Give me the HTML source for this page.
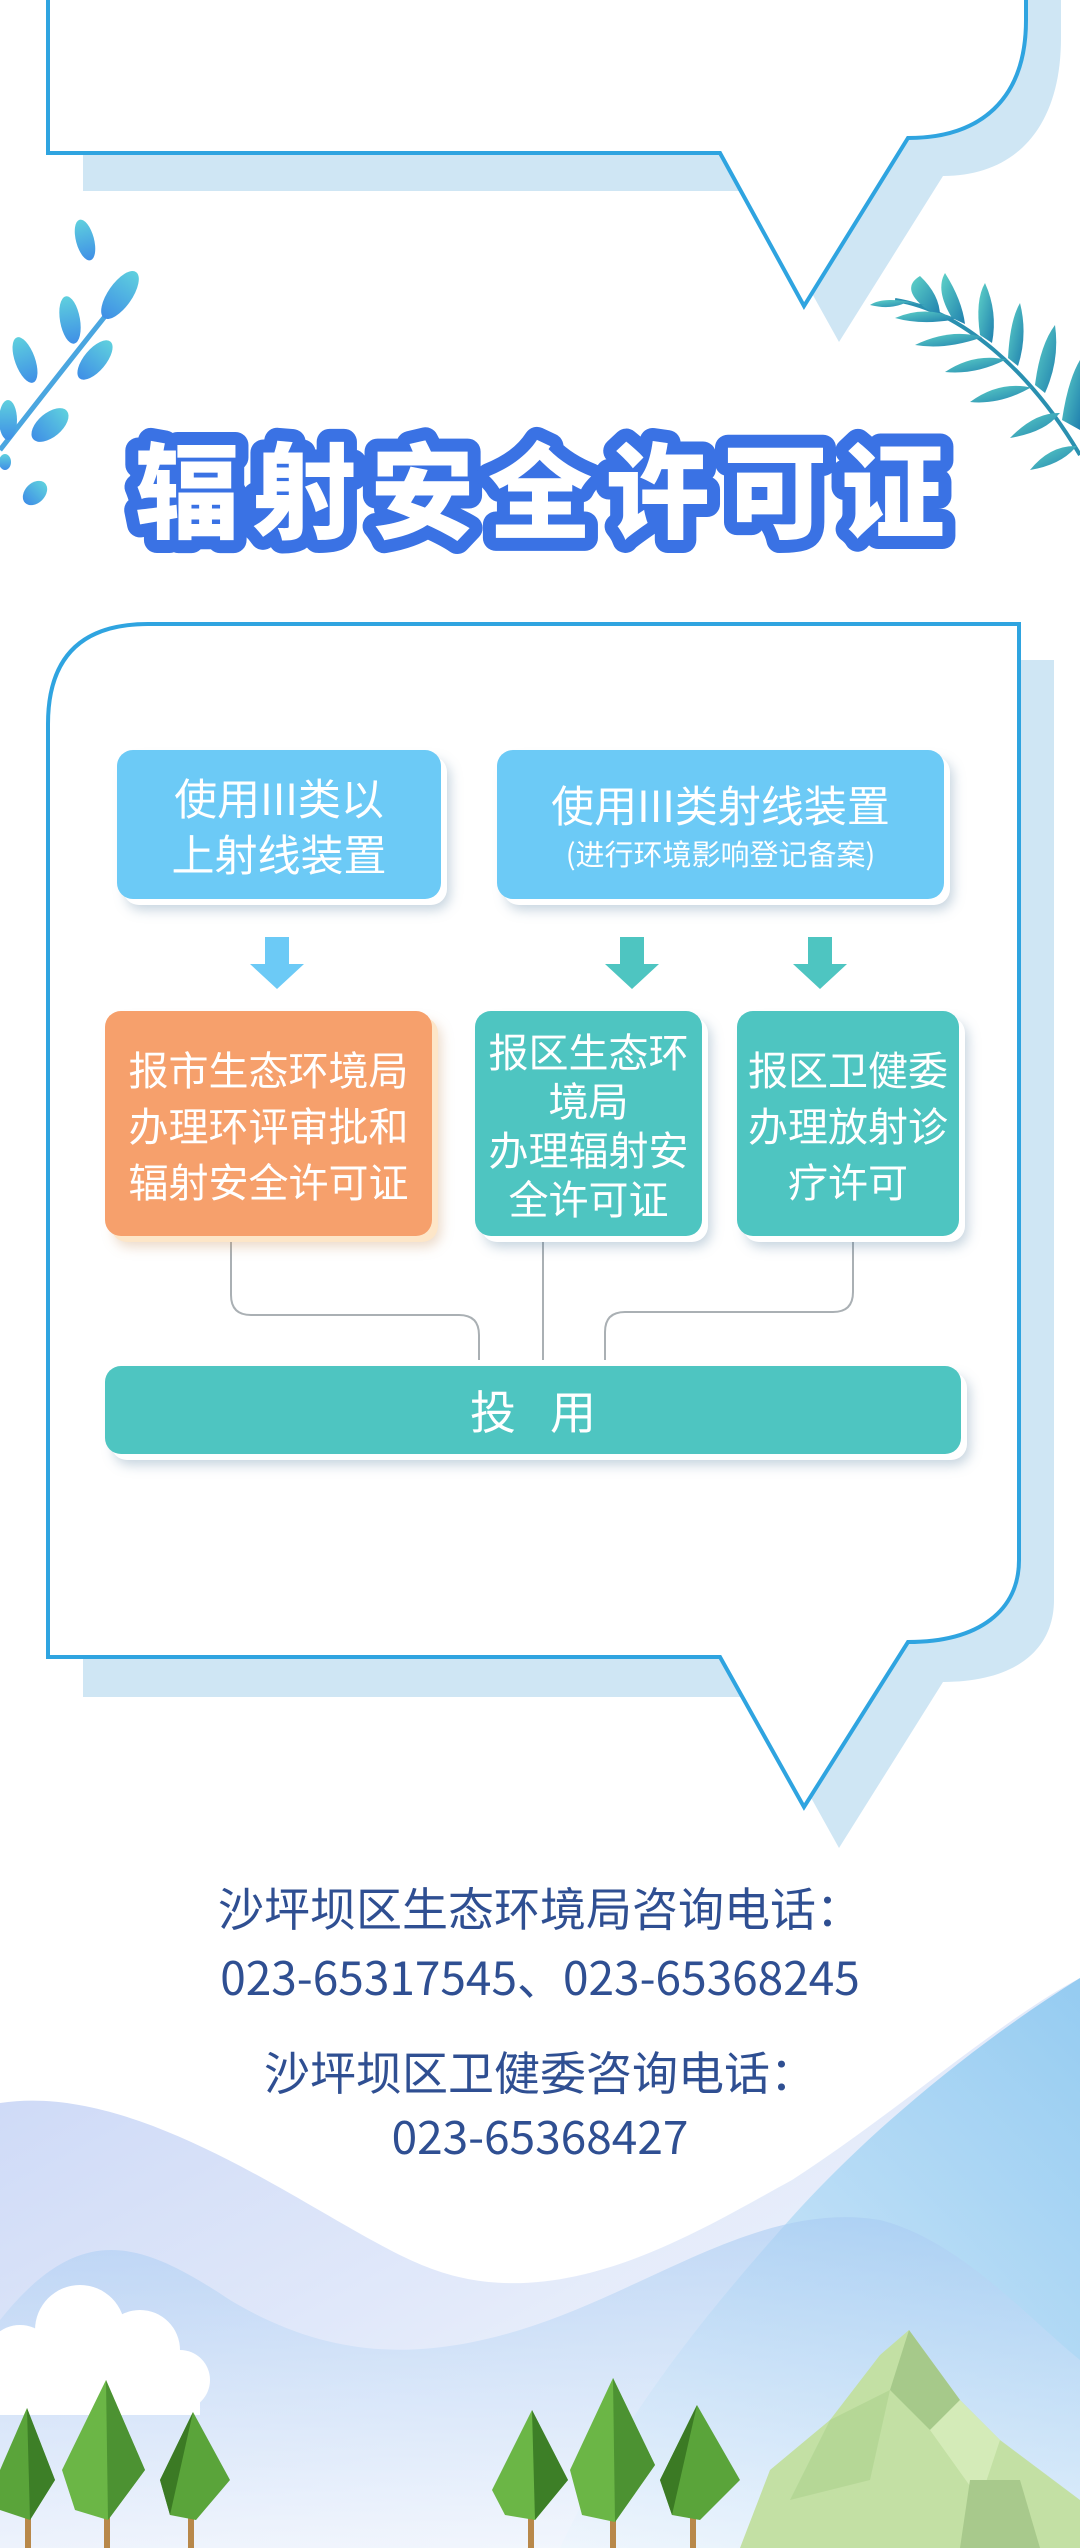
<!DOCTYPE html>
<html><head><meta charset="utf-8">
<style>
html,body{margin:0;padding:0;background:#fff;}
body{width:1080px;height:2548px;position:relative;overflow:hidden;font-family:"Noto Sans CJK SC","Liberation Sans",sans-serif;}
.box{position:absolute;color:#fff;text-align:center;border-radius:16px;box-shadow:6px 6px 0 #fff,9px 11px 12px rgba(90,130,160,.35);display:flex;flex-direction:column;justify-content:center;align-items:center;font-size:40px;line-height:52px;}
.lb{background:#6ccaf6;}
.tl{background:#4ec5c1;}
.or{background:#f6a06c;box-shadow:6px 6px 0 #fde6c8,9px 11px 12px rgba(200,150,100,.35);}
.info{position:absolute;left:0;width:1080px;text-align:center;color:#2f4f92;font-size:46px;}
</style></head><body>
<svg width="1080" height="2548" style="position:absolute;left:0;top:0" xmlns="http://www.w3.org/2000/svg">
<defs>
<linearGradient id="w1" x1="0" y1="0" x2="1" y2="1"><stop offset="0" stop-color="#c9d6f6"/><stop offset="0.6" stop-color="#e8eefb"/><stop offset="1" stop-color="#f7f9fe"/></linearGradient>
<linearGradient id="w2" x1="1" y1="0" x2="0" y2="1"><stop offset="0" stop-color="#8cc8f0"/><stop offset="1" stop-color="#e6f2fc"/></linearGradient>
<linearGradient id="w3" x1="0" y1="0" x2="0" y2="1"><stop offset="0" stop-color="#a8cbf2"/><stop offset="1" stop-color="#f4f8fe"/></linearGradient>
<linearGradient id="fern" x1="0" y1="0" x2="1" y2="1"><stop offset="0" stop-color="#5fd3c8"/><stop offset="1" stop-color="#1f7fae"/></linearGradient>
<linearGradient id="leaf" x1="0" y1="0" x2="0" y2="1"><stop offset="0" stop-color="#5fd0de"/><stop offset="1" stop-color="#3f8fe6"/></linearGradient>
</defs>
<path d="M83,-5 L83,191 L755,191 L839,342 L943,176 C1015,176 1061,128 1061,38 L1061,-5 Z" fill="#cfe6f4"/>
<path d="M48,-5 L48,153 L720,153 L804,306 L908,138 C980,138 1026,100 1026,20 L1026,-5 Z" fill="#fff" stroke="#2fa4e0" stroke-width="4"/>
<path d="M83,760 Q83,660 183,660 L1054,660 L1054,1600 C1054,1650 1015,1682 943,1682 L839,1848 L755,1697 L83,1697 Z" fill="#cfe6f4"/>
<path d="M48,724 Q48,624 148,624 L1019,624 L1019,1560 C1019,1610 980,1642 908,1642 L804,1807 L720,1657 L48,1657 Z" fill="#fff" stroke="#2fa4e0" stroke-width="4"/>
<g fill="url(#leaf)">
<path d="M0,450 Q70,360 130,285" stroke="#4aa6e0" stroke-width="5" fill="none"/>
<ellipse cx="85" cy="240" rx="9" ry="21" transform="rotate(-15 85 240)"/>
<ellipse cx="120" cy="295" rx="12" ry="28" transform="rotate(35 120 295)"/>
<ellipse cx="70" cy="320" rx="10" ry="24" transform="rotate(-10 70 320)"/>
<ellipse cx="95" cy="360" rx="11" ry="24" transform="rotate(40 95 360)"/>
<ellipse cx="25" cy="360" rx="10" ry="24" transform="rotate(-20 25 360)"/>
<ellipse cx="50" cy="425" rx="12" ry="22" transform="rotate(50 50 425)"/>
<ellipse cx="8" cy="420" rx="9" ry="20"/>
<ellipse cx="35" cy="493" rx="10" ry="14" transform="rotate(45 35 493)"/>
<ellipse cx="5" cy="462" rx="6" ry="8"/>
</g>
<g fill="url(#fern)">
<path d="M895,300 C960,310 1030,370 1080,455" stroke="#2a90b0" stroke-width="4" fill="none"/>
<path d="M925,308 Q900,288 920,276 Q940,295 940,316 Z"/>
<path d="M905,303 Q890,310 870,305 Q885,295 925,305 Z"/>
<path d="M952,318 Q935,290 945,273 Q962,300 965,324 Z"/>
<path d="M952,320 Q920,325 895,318 Q925,305 955,318 Z"/>
<path d="M980,335 Q975,300 985,283 Q998,312 992,343 Z"/>
<path d="M980,338 Q945,350 915,345 Q950,328 982,337 Z"/>
<path d="M1008,358 Q1010,320 1020,303 Q1028,335 1018,366 Z"/>
<path d="M1005,360 Q975,375 945,372 Q975,352 1008,360 Z"/>
<path d="M1035,385 Q1040,345 1055,325 Q1060,360 1045,393 Z"/>
<path d="M1030,388 Q1000,405 970,402 Q1000,380 1033,388 Z"/>
<path d="M1058,415 Q1045,432 1010,438 Q1035,412 1060,413 Z"/>
<path d="M1062,420 Q1068,380 1080,360 L1080,430 Z"/>
<path d="M1075,448 Q1060,465 1030,470 Q1050,445 1077,446 Z"/>
</g>
<text x="540" y="530" text-anchor="middle" font-family="'Noto Sans CJK SC',sans-serif" font-weight="900" font-size="104" textLength="810" lengthAdjust="spacing" fill="#fff" stroke="#3a72e4" stroke-width="26" stroke-linejoin="round" paint-order="stroke">辐射安全许可证</text>
<g fill="none" stroke="#aab0b4" stroke-width="2">
<path d="M231,1240 L231,1295 Q231,1315 251,1315 L459,1315 Q479,1315 479,1335 L479,1360"/>
<path d="M543,1240 L543,1360"/>
<path d="M853,1240 L853,1292 Q853,1312 833,1312 L625,1312 Q605,1312 605,1332 L605,1360"/>
</g>
<path d="M265,937 L289,937 L289,964 L304,964 L277,989 L250,964 L265,964 Z" fill="#6ccaf6"/>
<path d="M620,937 L644,937 L644,964 L659,964 L632,989 L605,964 L620,964 Z" fill="#4ec5c1"/>
<path d="M808,937 L832,937 L832,964 L847,964 L820,989 L793,964 L808,964 Z" fill="#4ec5c1"/>
<path d="M0,2103 C150,2080 330,2230 427,2267 C560,2320 700,2230 792,2180 C900,2110 1000,2020 1080,1978 L1080,2548 L0,2548 Z" fill="url(#w1)"/>
<path d="M792,2217 C870,2130 980,2040 1080,1978 L1080,2548 L560,2548 C620,2420 700,2320 792,2217 Z" fill="url(#w2)" opacity="0.9"/>
<path d="M0,2320 C80,2220 140,2240 230,2300 C330,2360 420,2360 520,2330 C650,2290 760,2200 880,2220 C960,2240 1030,2320 1080,2360 L1080,2548 L0,2548 Z" fill="url(#w3)" opacity="0.6"/>
<g fill="#fff">
<circle cx="80" cy="2330" r="45"/><circle cx="140" cy="2350" r="40"/><circle cx="180" cy="2380" r="30"/><circle cx="20" cy="2360" r="35"/>
<rect x="0" y="2360" width="200" height="55"/>
</g>
<g>
<path d="M740,2548 L770,2470 L830,2420 L880,2355 L909,2330 L960,2400 L1000,2440 L1040,2470 L1080,2500 L1080,2548 Z" fill="#c3e0a4"/>
<path d="M909,2330 L960,2400 L930,2430 L890,2390 Z" fill="#a6c98a"/>
<path d="M960,2400 L1000,2440 L980,2500 L930,2430 Z" fill="#d4ebb8"/>
<path d="M830,2420 L890,2390 L870,2480 L790,2500 Z" fill="#b5d796"/>
<path d="M970,2480 L1020,2480 L1040,2548 L960,2548 Z" fill="#a8c98c"/>
</g>
<g>
<rect x="25" y="2500" width="6" height="48" fill="#b8884a"/><rect x="104" y="2510" width="6" height="38" fill="#b8884a"/><rect x="188" y="2505" width="6" height="43" fill="#b8884a"/>
<path d="M27,2408 L0,2470 L0,2510 L30,2520 L55,2480 Z" fill="#5aa43a"/>
<path d="M27,2408 L55,2480 L30,2520 Z" fill="#3d7f27"/>
<path d="M106,2380 L62,2470 L75,2510 L108,2520 L145,2470 Z" fill="#6bb646"/>
<path d="M106,2380 L145,2470 L108,2520 Z" fill="#4c9232"/>
<path d="M193,2412 L160,2480 L170,2515 L196,2520 L230,2480 Z" fill="#5aa43a"/>
<path d="M193,2412 L160,2480 L170,2515 Z" fill="#3b7a24"/>
<rect x="528" y="2505" width="6" height="43" fill="#b8884a"/><rect x="610" y="2510" width="6" height="38" fill="#b8884a"/><rect x="690" y="2505" width="6" height="43" fill="#b8884a"/>
<path d="M532,2410 L492,2490 L505,2515 L535,2520 L568,2480 Z" fill="#6bb646"/>
<path d="M532,2410 L568,2480 L535,2520 Z" fill="#3d7f27"/>
<path d="M613,2378 L570,2470 L582,2515 L615,2522 L655,2465 Z" fill="#6bb646"/>
<path d="M613,2378 L655,2465 L615,2522 Z" fill="#4c9232"/>
<path d="M697,2405 L660,2480 L672,2515 L700,2520 L740,2480 Z" fill="#5aa43a"/>
<path d="M697,2405 L660,2480 L672,2515 Z" fill="#3b7a24"/>
</g>
</svg>

<div class="box lb" style="left:117px;top:750px;width:324px;height:149px;font-size:43px;line-height:56px;">使用III类以<br>上射线装置</div>
<div class="box lb" style="left:497px;top:750px;width:447px;height:149px;"><div style="font-size:43px;line-height:56px;">使用III类射线装置</div><div style="font-size:29px;line-height:42px;">(进行环境影响登记备案)</div></div>
<div class="box or" style="left:105px;top:1011px;width:327px;height:225px;font-size:40px;line-height:56px;">报市生态环境局<br>办理环评审批和<br>辐射安全许可证</div>
<div class="box tl" style="left:475px;top:1011px;width:227px;height:225px;font-size:40px;line-height:49px;">报区生态环<br>境局<br>办理辐射安<br>全许可证</div>
<div class="box tl" style="left:737px;top:1011px;width:222px;height:225px;font-size:40px;line-height:56px;">报区卫健委<br>办理放射诊<br>疗许可</div>
<div class="box tl" style="left:105px;top:1366px;width:856px;height:88px;font-size:46px;letter-spacing:34px;padding-left:34px;box-sizing:border-box;">投用</div>

<div class="info" style="top:1876px;line-height:62px;">沙坪坝区生态环境局咨询电话：</div>
<div class="info" style="top:1945px;line-height:62px;">023-65317545、023-65368245</div>
<div class="info" style="top:2040px;line-height:62px;">沙坪坝区卫健委咨询电话：</div>
<div class="info" style="top:2104px;line-height:62px;">023-65368427</div>
</body></html>
